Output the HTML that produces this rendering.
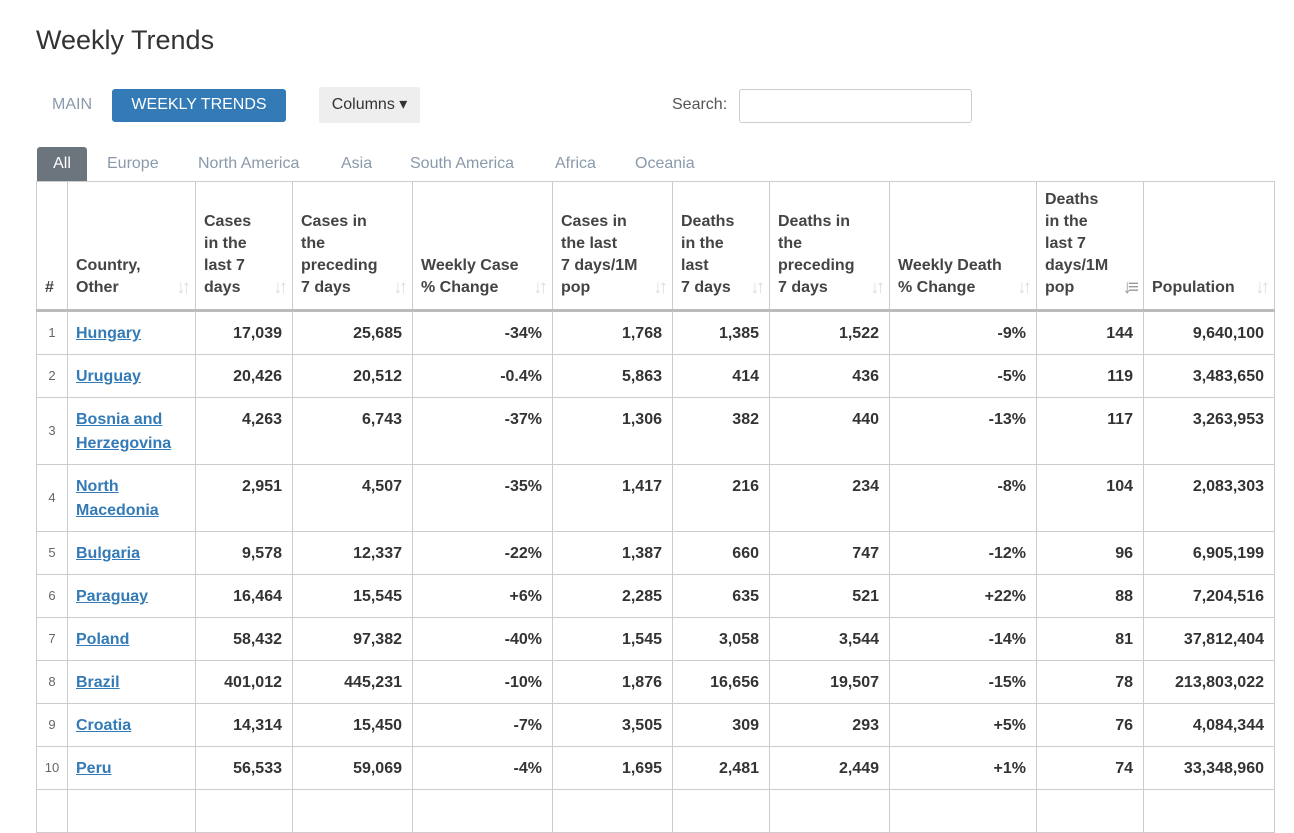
<!DOCTYPE html>
<html><head><style>
body{margin:0;width:1294px;height:796px;overflow:hidden;background:#fff;font-family:"Liberation Sans",Arial,sans-serif;color:#333;position:relative}
h1{position:absolute;left:36px;top:25px;margin:0;font-size:27px;font-weight:normal;color:#333}
.main{position:absolute;left:52px;top:96px;font-size:16px;color:#8a9aaa}
.wt{position:absolute;left:112px;top:89px;width:174px;height:33px;background:#337ab7;color:#fff;border-radius:3px;font-size:16px;line-height:32px;text-align:center}
.col{position:absolute;left:319px;top:87px;width:101px;height:36px;background:#eee;border-radius:2px;font-size:16px;line-height:35px;text-align:center;color:#333}
.srch{position:absolute;left:672px;top:96px;font-size:16px;color:#555}
.inp{position:absolute;left:739px;top:89px;width:231px;height:32px;border:1px solid #ccc;border-radius:3px}
.tabs{position:absolute;left:37px;top:147px;height:34px;font-size:16px;color:#8a9aaa}
.tabs span{position:absolute;top:8px;white-space:nowrap}
.all{position:absolute;left:0;top:0;width:50px;height:34px;background:#6c757d;color:#fff;border-radius:3px 3px 0 0;text-align:center;line-height:33px}
table{position:absolute;left:36px;top:181px;border-collapse:collapse;table-layout:fixed;font-size:16px}
th,td{border:1px solid #ccc;padding:0 10px 0 8px}
th{vertical-align:bottom;text-align:left;font-weight:bold;color:#444;line-height:22px;padding-bottom:10px;position:relative;height:117px;border-bottom:3px solid #bbb}
th i{position:absolute;right:8px;bottom:10px;color:#ddd;font-style:normal;font-weight:bold;font-size:19px;letter-spacing:-4px}
td{text-align:right;font-weight:bold;vertical-align:top;line-height:24px;padding-top:10px;height:32px}
td.n{font-size:13px;color:#666;text-align:center;font-weight:normal;vertical-align:middle;padding:0}
td.c{text-align:left}
td.c a{color:#337ab7;text-decoration:underline}
tr.t td{height:56px}
</style></head><body>
<h1>Weekly Trends</h1>
<div class="main">MAIN</div>
<div class="wt">WEEKLY TRENDS</div>
<div class="col">Columns ▾</div>
<div class="srch">Search:</div>
<div class="inp"></div>
<div class="tabs"><div class="all">All</div><span style="left:70px">Europe</span><span style="left:161px">North America</span><span style="left:304px">Asia</span><span style="left:373px">South America</span><span style="left:518px">Africa</span><span style="left:598px">Oceania</span></div>
<table>
<colgroup><col style="width:31px"><col style="width:128px"><col style="width:97px"><col style="width:120px"><col style="width:140px"><col style="width:120px"><col style="width:97px"><col style="width:120px"><col style="width:147px"><col style="width:107px"><col style="width:131px"></colgroup>
<tr><th style="padding:0 0 10px 8px">#</th><th>Country,<br>Other<i>↓↑</i></th><th>Cases<br>in the<br>last 7<br>days<i>↓↑</i></th><th>Cases in<br>the<br>preceding<br>7 days<i>↓↑</i></th><th>Weekly Case<br>% Change<i>↓↑</i></th><th>Cases in<br>the last<br>7 days/1M<br>pop<i>↓↑</i></th><th>Deaths<br>in the<br>last<br>7 days<i>↓↑</i></th><th>Deaths in<br>the<br>preceding<br>7 days<i>↓↑</i></th><th>Weekly Death<br>% Change<i>↓↑</i></th><th>Deaths<br>in the<br>last 7<br>days/1M<br>pop<i style="color:#999">↓≡</i></th><th>Population<i>↓↑</i></th></tr>
<tr><td class="n">1</td><td class="c"><a>Hungary</a></td><td>17,039</td><td>25,685</td><td>-34%</td><td>1,768</td><td>1,385</td><td>1,522</td><td>-9%</td><td>144</td><td>9,640,100</td></tr>
<tr><td class="n">2</td><td class="c"><a>Uruguay</a></td><td>20,426</td><td>20,512</td><td>-0.4%</td><td>5,863</td><td>414</td><td>436</td><td>-5%</td><td>119</td><td>3,483,650</td></tr>
<tr class="t"><td class="n">3</td><td class="c"><a>Bosnia and Herzegovina</a></td><td>4,263</td><td>6,743</td><td>-37%</td><td>1,306</td><td>382</td><td>440</td><td>-13%</td><td>117</td><td>3,263,953</td></tr>
<tr class="t"><td class="n">4</td><td class="c"><a>North Macedonia</a></td><td>2,951</td><td>4,507</td><td>-35%</td><td>1,417</td><td>216</td><td>234</td><td>-8%</td><td>104</td><td>2,083,303</td></tr>
<tr><td class="n">5</td><td class="c"><a>Bulgaria</a></td><td>9,578</td><td>12,337</td><td>-22%</td><td>1,387</td><td>660</td><td>747</td><td>-12%</td><td>96</td><td>6,905,199</td></tr>
<tr><td class="n">6</td><td class="c"><a>Paraguay</a></td><td>16,464</td><td>15,545</td><td>+6%</td><td>2,285</td><td>635</td><td>521</td><td>+22%</td><td>88</td><td>7,204,516</td></tr>
<tr><td class="n">7</td><td class="c"><a>Poland</a></td><td>58,432</td><td>97,382</td><td>-40%</td><td>1,545</td><td>3,058</td><td>3,544</td><td>-14%</td><td>81</td><td>37,812,404</td></tr>
<tr><td class="n">8</td><td class="c"><a>Brazil</a></td><td>401,012</td><td>445,231</td><td>-10%</td><td>1,876</td><td>16,656</td><td>19,507</td><td>-15%</td><td>78</td><td>213,803,022</td></tr>
<tr><td class="n">9</td><td class="c"><a>Croatia</a></td><td>14,314</td><td>15,450</td><td>-7%</td><td>3,505</td><td>309</td><td>293</td><td>+5%</td><td>76</td><td>4,084,344</td></tr>
<tr><td class="n">10</td><td class="c"><a>Peru</a></td><td>56,533</td><td>59,069</td><td>-4%</td><td>1,695</td><td>2,481</td><td>2,449</td><td>+1%</td><td>74</td><td>33,348,960</td></tr>
<tr><td class="n"></td><td class="c"></td><td></td><td></td><td></td><td></td><td></td><td></td><td></td><td></td><td></td></tr>
</table>
</body></html>
